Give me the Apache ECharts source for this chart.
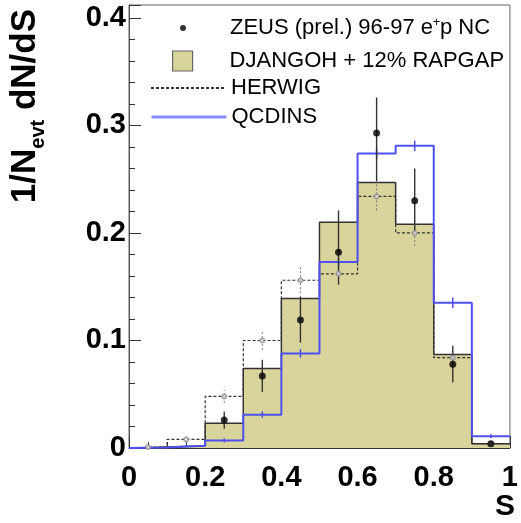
<!DOCTYPE html>
<html><head><meta charset="utf-8">
<script src="https://cdn.jsdelivr.net/npm/echarts@6/dist/echarts.min.js"></script>
<style>html,body{margin:0;padding:0;background:#fff}#c{width:521px;height:523px}</style>
</head><body><div id="c"></div>
<script>
// ---- data ----
const binEdges   = [0, 0.1, 0.2, 0.3, 0.4, 0.5, 0.6, 0.7, 0.8, 0.9, 1.0];
const binCenters = [0.05, 0.15, 0.25, 0.35, 0.45, 0.55, 0.65, 0.75, 0.85, 0.95];

const djangoh   = [0.001, 0.002, 0.023, 0.074, 0.139, 0.210, 0.247, 0.208, 0.087, 0.004];
const qcdins    = [0.0005, 0.002, 0.007, 0.031, 0.088, 0.173, 0.274, 0.281, 0.135, 0.011];
const qcdinsErr = [0.001, 0.001, 0.002, 0.003, 0.004, 0.004, 0.005, 0.005, 0.005, 0.002];
const herwig    = [0.001, 0.008, 0.048, 0.100, 0.156, 0.162, 0.234, 0.200, 0.084, 0.004];
const herwigErr = [0.001, 0.003, 0.006, 0.009, 0.012, 0.010, 0.013, 0.012, 0.006, 0.002];

const zeusX       = [0.25, 0.35, 0.45, 0.55, 0.65, 0.75, 0.85, 0.95];
const zeusY       = [0.026, 0.067, 0.119, 0.182, 0.293, 0.230, 0.078, 0.004];
const zeusErrUp   = [0.008, 0.015, 0.022, 0.039, 0.033, 0.030, 0.017, 0.002];
const zeusErrDown = [0.008, 0.015, 0.021, 0.030, 0.045, 0.030, 0.017, 0.002];

const xTickLabels = ['0', '0.2', '0.4', '0.6', '0.8', '1'];
const yTickLabels = ['0', '0.1', '0.2', '0.3', '0.4'];

const nameZeus = 'ZEUS (prel.) 96-97 e+p NC';
const nameDjan = 'DJANGOH + 12% RAPGAP';
const nameHerw = 'HERWIG';
const nameQcd  = 'QCDINS';

// ---- helpers ----
function stepData(vals) {
  const d = [[binEdges[0], 0]];
  vals.forEach((v, i) => d.push([binEdges[i], v]));
  d.push([binEdges[binEdges.length - 1], vals[vals.length - 1]]);
  return d;
}
function errData(xs, ys, lo, hi) {
  return xs.map((x, i) => [x, ys[i] - lo[i], ys[i] + hi[i]]);
}
function errSeries(name, data, stroke, width, dash) {
  return {
    name: name, type: 'custom', data: data, z: 5,
    encode: {x: 0, y: [1, 2]},
    renderItem: function (params, api) {
      const a = api.coord([api.value(0), api.value(1)]);
      const b = api.coord([api.value(0), api.value(2)]);
      return {type: 'line', shape: {x1: a[0], y1: a[1], x2: b[0], y2: b[1]},
              style: {stroke: stroke, lineWidth: width, lineDash: dash || null}};
    }
  };
}
const FONT = '"Liberation Sans", Arial, Helvetica, sans-serif';
const fillColor = '#d9d49b';
const blue = '#5050f0';

const chart = echarts.init(document.getElementById('c'));
const legendText = {fontFamily: FONT, fontSize: 22, color: '#000',
  rich: {sup: {fontFamily: FONT, fontSize: 12, verticalAlign: 'top', lineHeight: 12, color: '#000'}}};

chart.setOption({
  animation: false,
  backgroundColor: '#fff',
  grid: {left: 129, right: 2, top: 5, bottom: 75, show: true, borderColor: '#666', borderWidth: 1},
  xAxis: {
    type: 'value', min: 0, max: 1, interval: 0.2,
    axisLine: {show: true, onZero: false, lineStyle: {color: '#333', width: 1}},
    axisTick: {show: true, inside: true, length: 12, lineStyle: {color: '#333'}},
    minorTick: {show: true, splitNumber: 4, length: 6, lineStyle: {color: '#333'}},
    splitLine: {show: false},
    axisLabel: {fontFamily: FONT, fontSize: 29, fontWeight: 'bold', color: '#000', margin: 15,
      formatter: v => { const s = String(+(+v).toFixed(3)); return xTickLabels.includes(s) ? s : ''; }}
  },
  yAxis: {
    type: 'value', min: 0, max: 0.412, interval: 0.1,
    axisLine: {show: true, onZero: false, lineStyle: {color: '#555', width: 1}},
    axisTick: {show: true, inside: true, length: 12, lineStyle: {color: '#333'}},
    minorTick: {show: true, splitNumber: 5, length: 6, lineStyle: {color: '#333'}},
    splitLine: {show: false},
    axisLabel: {fontFamily: FONT, fontSize: 29, fontWeight: 'bold', color: '#000', margin: 3,
      padding: [6, 0, 0, 0],
      formatter: v => { const s = String(+(+v).toFixed(3)); return yTickLabels.includes(s) ? s : ''; }}
  },
  legend: [
    {data: [nameZeus], left: 180, top: 17, padding: 0, itemWidth: 84, itemHeight: 6, icon: 'circle',
     selectedMode: false, textStyle: legendText, itemStyle: {color: '#000'},
     formatter: n => 'ZEUS (prel.) 96-97 e{sup|+}p NC'},
    {data: [nameDjan], left: 172, top: 50, padding: 0, itemWidth: 84, itemHeight: 20,
     icon: 'path://M0,0L10,0L10,10L0,10Z', selectedMode: false, textStyle: legendText,
     itemStyle: {color: fillColor, borderColor: '#666', borderWidth: 1.2}},
    {data: [nameHerw], left: 150, top: 77, padding: 0, itemWidth: 75, itemHeight: 14,
     selectedMode: false, textStyle: legendText, itemStyle: {opacity: 0}},
    {data: [nameQcd], left: 150, top: 106, padding: 0, itemWidth: 75, itemHeight: 14,
     selectedMode: false, textStyle: legendText, itemStyle: {opacity: 0},
     lineStyle: {width: 3, color: '#8c8cff'}}
  ],
  graphic: [
    {type: 'text', rotation: Math.PI / 2, x: 25, y: 9, z: 10,
     style: {text: '{m|1/N}{sub|evt}{m| dN/dS}', align: 'right', verticalAlign: 'middle',
       fill: '#000', font: 'bold 35px ' + FONT,
       rich: {m: {fontFamily: FONT, fontSize: 35, fontWeight: 'bold', verticalAlign: 'top', lineHeight: 35},
              sub: {fontFamily: FONT, fontSize: 20, fontWeight: 'bold', verticalAlign: 'top', lineHeight: 20,
                    padding: [21, 0, 0, 0]}}}},
    {type: 'text', x: 505, y: 507, z: 10,
     style: {text: 'S', align: 'center', verticalAlign: 'middle', fill: '#000',
       font: 'bold 30px ' + FONT}}
  ],
  series: [
    {name: nameDjan, type: 'line', step: 'end', data: stepData(djangoh), symbol: 'none',
     symbolKeepAspect: true, z: 1,
     lineStyle: {color: '#333', width: 1.5}, itemStyle: {color: fillColor},
     areaStyle: {color: fillColor, opacity: 1}},
    {name: nameHerw, type: 'line', step: 'end', data: stepData(herwig), symbol: 'none', z: 2,
     lineStyle: {color: '#333', width: 1.2, type: [3, 2]}, itemStyle: {color: '#333'}},
    {name: nameQcd, type: 'line', step: 'end', data: stepData(qcdins), symbol: 'none', z: 3,
     lineStyle: {color: blue, width: 2}, itemStyle: {color: blue}},
    errSeries('herwigErr', errData(binCenters, herwig, herwigErr, herwigErr), '#777', 1, [2, 2]),
    {name: 'herwigPts', type: 'scatter', z: 5, symbol: 'emptyCircle', symbolSize: 4,
     data: binCenters.map((x, i) => [x, herwig[i]]), itemStyle: {color: '#999', borderWidth: 1}},
    errSeries('qcdinsErr', errData(binCenters, qcdins, qcdinsErr, qcdinsErr), blue, 1.5),
    errSeries('zeusErr', errData(zeusX, zeusY, zeusErrDown, zeusErrUp), '#333', 1.4),
    {name: nameZeus, type: 'scatter', z: 6, symbol: 'circle', symbolSize: 7,
     data: zeusX.map((x, i) => [x, zeusY[i]]), itemStyle: {color: '#000'}}
  ]
});
</script></body></html>
